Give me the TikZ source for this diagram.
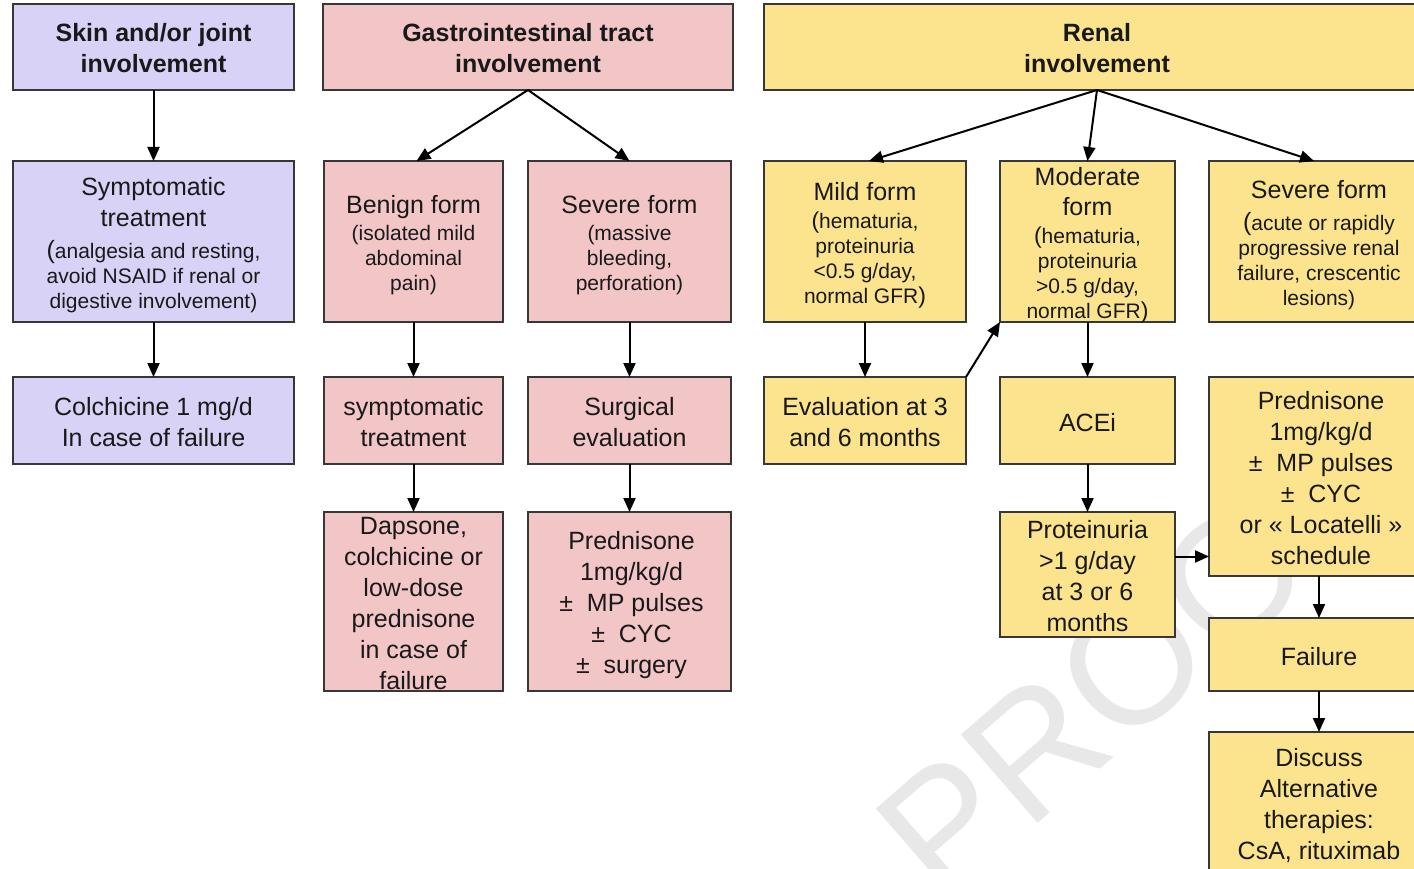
\documentclass[tikz,border=0pt]{standalone}
\usepackage{fontspec}
\setmainfont{Liberation Sans}
\usetikzlibrary{arrows.meta}
\definecolor{cpurp}{RGB}{216,210,246}
\definecolor{cpink}{RGB}{242,197,198}
\definecolor{cyell}{RGB}{252,228,142}
\definecolor{cedge}{RGB}{55,55,55}
\definecolor{ctext}{RGB}{25,25,25}
\newcommand\Lsz{\fontsize{25}{31}\selectfont}
\newcommand\Ssz{\fontsize{21}{25}\selectfont}
\newcommand\Msz{\fontsize{23}{25}\selectfont}
\newcommand\mkbox[6]{\node[boxst, fill=#2, minimum width=#5pt, minimum height=#6pt] (#1) at (#3,#4) {};}
\begin{document}
\begin{tikzpicture}[x=1pt,y=-1pt,
 boxst/.style={draw=cedge, line width=1.7pt, inner sep=0pt, outer sep=0pt},
 txt/.style={align=center, text=ctext, inner sep=0pt, font=\Lsz, yshift=-2pt},
 stxt/.style={align=center, text=ctext, inner sep=0pt, font=\Ssz, yshift=-4pt},
 hdr/.style={align=center, text=ctext, inner sep=0pt, font=\Lsz\bfseries, yshift=-1pt},
 arr/.style={-{Triangle[length=14pt,width=12pt]}, line width=2pt, black}]
\useasboundingbox (0,0) rectangle (1414,869);
\fill[white] (0,0) rectangle (1414,869);
\clip (0,0) rectangle (1414,869);
% watermark
\node[rotate=41, font=\fontsize{170}{170}\selectfont, text=black!9, inner sep=0pt] (wm) at (1132,664) {PROOF};
% boxes
\mkbox{skin}{cpurp}{153.5}{47}{281}{86}
\mkbox{symp}{cpurp}{153.5}{241.5}{281}{161}
\mkbox{colch}{cpurp}{153.5}{420.5}{281}{87}
\mkbox{gi}{cpink}{528}{47}{410}{86}
\mkbox{benign}{cpink}{413.5}{241.5}{179}{161}
\mkbox{sevgi}{cpink}{629.5}{241.5}{203}{161}
\mkbox{symptwo}{cpink}{413.5}{420.5}{179}{87}
\mkbox{surg}{cpink}{629.5}{420.5}{203}{87}
\mkbox{dap}{cpink}{413.5}{601.5}{179}{179}
\mkbox{predgi}{cpink}{629.5}{601.5}{203}{179}
\mkbox{renal}{cyell}{1097}{47}{666}{86}
\mkbox{mild}{cyell}{865}{241.5}{202}{161}
\mkbox{mod}{cyell}{1087.5}{241.5}{175}{161}
\mkbox{sevr}{cyell}{1319}{241.5}{220}{161}
\mkbox{eval}{cyell}{865}{420.5}{202}{87}
\mkbox{acei}{cyell}{1087.5}{420.5}{175}{87}
\mkbox{prot}{cyell}{1087.5}{574.5}{175}{125}
\mkbox{predr}{cyell}{1319}{476.5}{220}{199}
\mkbox{fail}{cyell}{1319}{654.5}{220}{73}
\mkbox{disc}{cyell}{1319}{806}{220}{148}
% texts
\node[hdr] (tskin) at (skin.center) {Skin and/or joint\\involvement};
\node[hdr] (tgi) at (gi.center) {Gastrointestinal tract\\involvement};
\node[hdr] (trenal) at (renal.center) {Renal\\involvement};
\node[stxt] (tsymp) at (symp.center) {{\Lsz Symptomatic}\\[6pt]{\Lsz treatment}\\[7pt]{\Lsz(}analgesia and resting,\\avoid NSAID if renal or\\digestive involvement)};
\node[txt] (tcolch) at (colch.center) {Colchicine 1 mg/d\\In case of failure};
\node[stxt] (tbenign) at (benign.center) {{\Lsz Benign form}\\[2pt](isolated mild\\abdominal\\pain)};
\node[stxt] (tsevgi) at (sevgi.center) {{\Lsz Severe form}\\[2pt](massive\\bleeding,\\perforation)};
\node[txt] (tsymptwo) at (symptwo.center) {symptomatic\\treatment};
\node[txt] (tsurg) at (surg.center) {Surgical\\evaluation};
\node[txt] (tdap) at (dap.center) {Dapsone,\\colchicine or\\low-dose\\prednisone\\in case of\\failure};
\node[txt, yshift=-2pt] (tpredgi) at ([xshift=2pt]predgi.center) {Prednisone\\1mg/kg/d\\±\ \ MP pulses\\±\ \ CYC\\±\ \ surgery};
\node[stxt] (tmild) at (mild.center) {{\Lsz Mild form}\\[3pt]{\Msz(}hematuria,\\proteinuria\\<0.5 g/day,\\normal GFR{\Msz)}};
\node[stxt] (tmod) at (mod.center) {{\Lsz Moderate}\\[5pt]{\Lsz form}\\[3pt]{\Msz(}hematuria,\\proteinuria\\>0.5 g/day,\\normal GFR{\Msz)}};
\node[stxt] (tsevr) at (sevr.center) {{\Lsz Severe form}\\[7pt]{\Lsz(}acute or rapidly\\progressive renal\\failure, crescentic\\lesions)};
\node[txt] (teval) at (eval.center) {Evaluation at 3\\and 6 months};
\node[txt] (tacei) at (acei.center) {ACEi};
\node[txt] (tprot) at (prot.center) {Proteinuria\\>1 g/day\\at 3 or 6\\months};
\node[txt] (tpredr) at ([xshift=2pt]predr.center) {Prednisone\\1mg/kg/d\\±\ \ MP pulses\\±\ \ CYC\\or « Locatelli »\\schedule};
\node[txt] (tfail) at (fail.center) {Failure};
\node[txt] (tdisc) at ([yshift=2pt]disc.center) {Discuss\\Alternative\\therapies:\\CsA, rituximab};
% arrows
\draw[arr] (skin.south) -- (symp.north);
\draw[arr] (symp.south) -- (colch.north);
\draw[arr] (gi.south) -- ([xshift=3pt]benign.north);
\draw[arr] (gi.south) -- (sevgi.north);
\draw[arr] (benign.south) -- (symptwo.north);
\draw[arr] (symptwo.south) -- (dap.north);
\draw[arr] (sevgi.south) -- (surg.north);
\draw[arr] (surg.south) -- (predgi.north);
\draw[arr] (renal.south) -- ([xshift=4pt]mild.north);
\draw[arr] (renal.south) -- (mod.north);
\draw[arr] (renal.south) -- ([xshift=-5pt]sevr.north);
\draw[arr] (mild.south) -- (eval.north);
\draw[arr] (eval.north east) -- (mod.south west);
\draw[arr] (mod.south) -- (acei.north);
\draw[arr] (acei.south) -- (prot.north);
\coordinate (pa) at ([yshift=18pt]prot.east);
\draw[arr] (pa) -- (pa -| predr.west);
\draw[arr] (predr.south) -- (fail.north);
\draw[arr] (fail.south) -- (disc.north);
\end{tikzpicture}
\end{document}
